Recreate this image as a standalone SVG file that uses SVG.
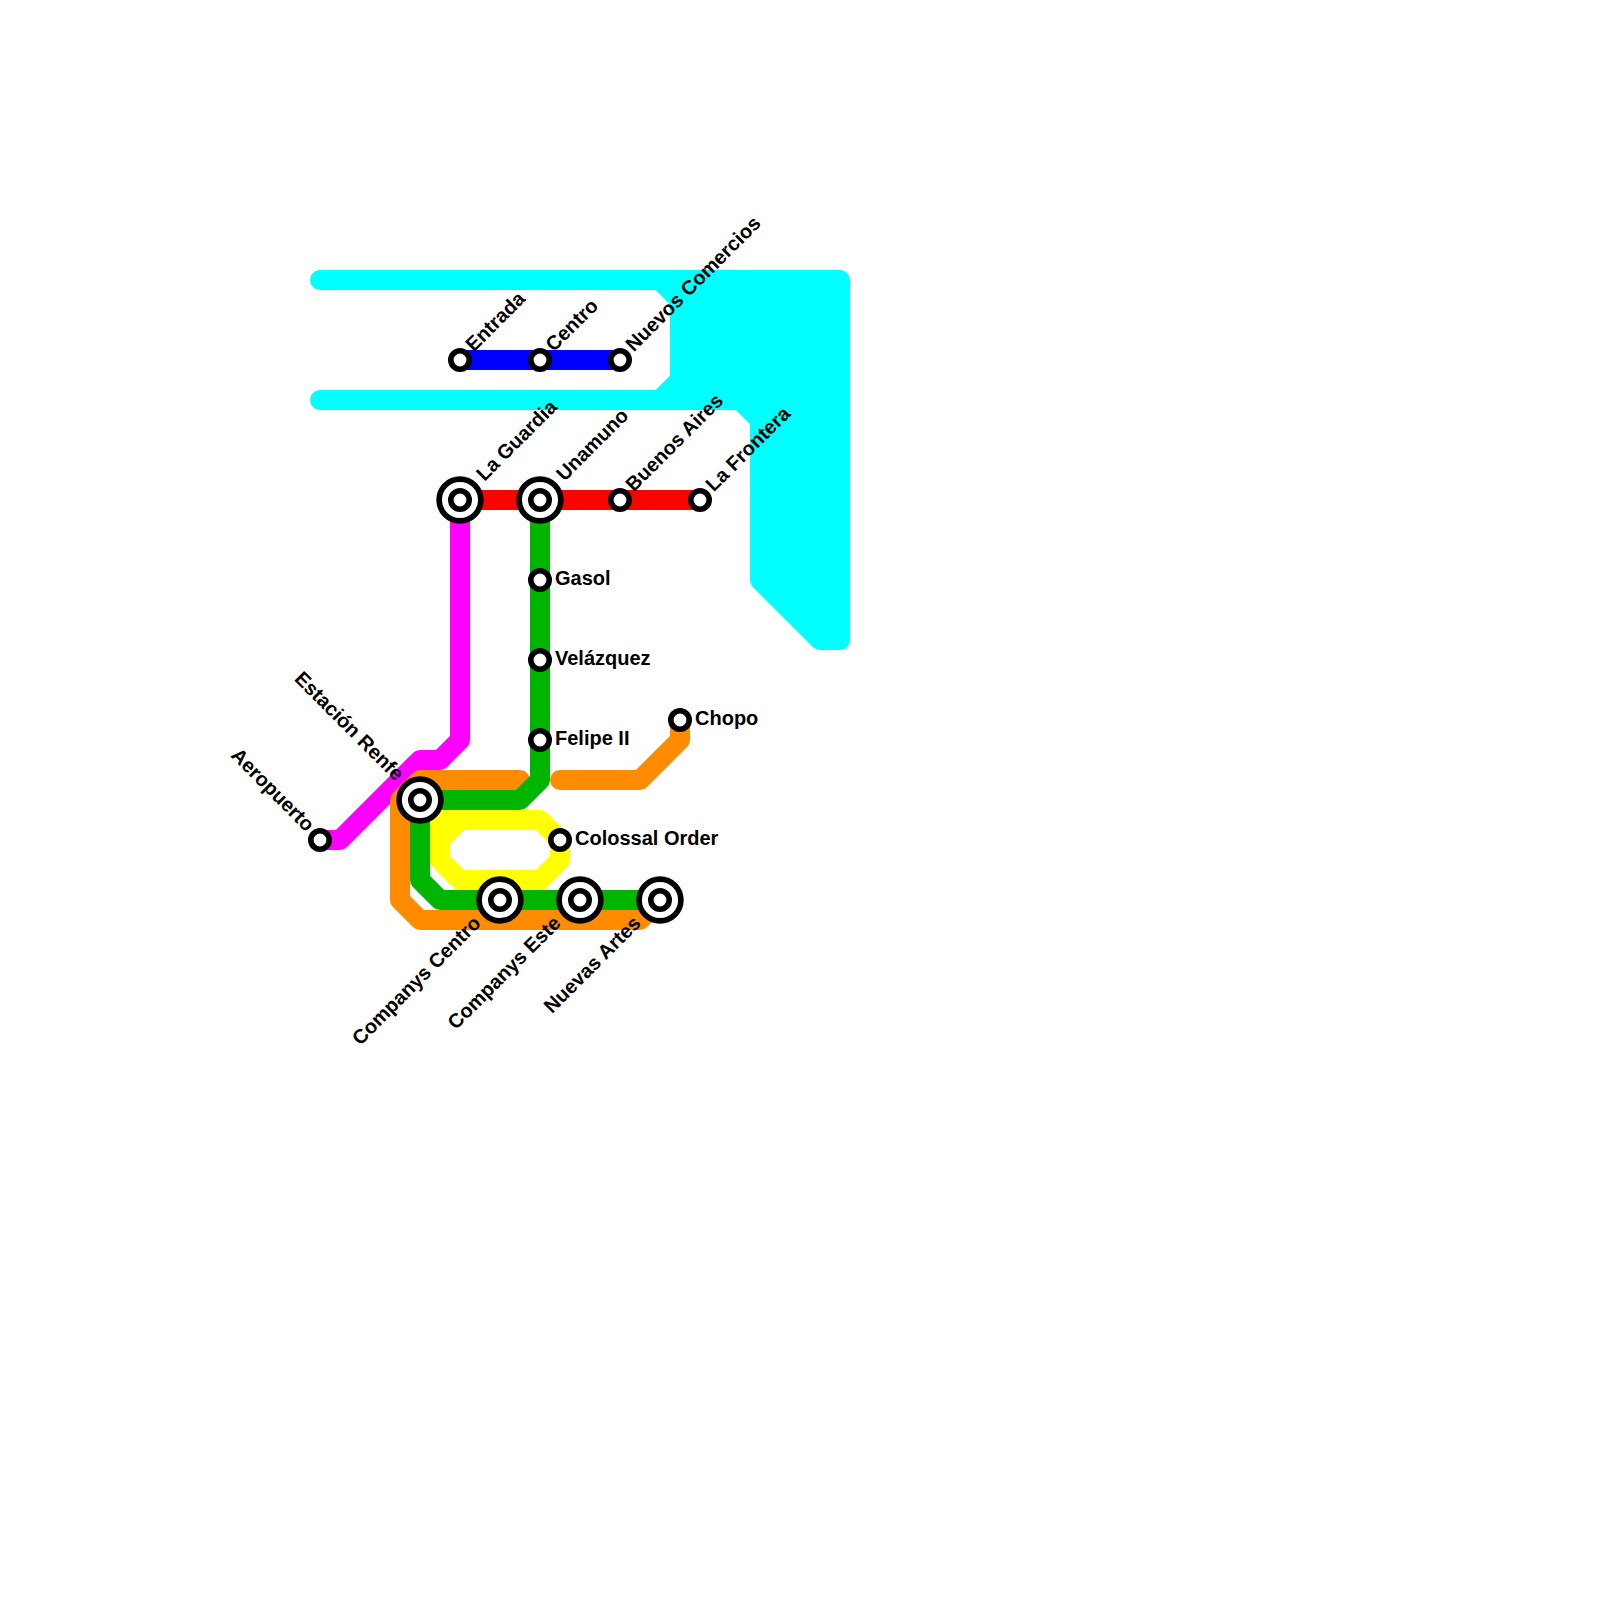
<svg xmlns="http://www.w3.org/2000/svg" width="1600" height="1600" viewBox="0 0 1600 1600">
<style>
.l{fill:none;stroke-width:20;stroke-linecap:round;stroke-linejoin:round}
.s{fill:#fff;stroke:#000;stroke-width:5.6}
text{font-family:"Liberation Sans",Arial,sans-serif;font-weight:700;font-size:20px;fill:#000}
.e{text-anchor:end}
</style>
<defs>
<g id="st"><circle class="s" r="9.2"/></g>
<g id="ic"><circle class="s" r="20.9"/><circle class="s" r="9.2"/></g>
</defs>
<rect width="1600" height="1600" fill="#fff"/>
<g id="connectors">
<path class="l" stroke="#0ff" d="M320 280H660L680 300V380L660 400H320"/>
<path class="l" stroke="#0ff" style="fill:#0ff" d="M660 280H840V640H820L760 580V420L740 400H660L680 380V300Z"/>
<path class="l" stroke="#00f" d="M460 360H620"/>
<path class="l" stroke="#f00" d="M460 500H700"/>
<path class="l" stroke="#f0f" d="M460 500V740L440 760H420L340 840H320"/>
<path class="l" stroke="#ff8c00" d="M520 780H420L400 800V900L420 920H640L660 900"/>
<path class="l" stroke="#ff8c00" d="M560 780H640L680 740V720"/>
<path class="l" stroke="#ff0" d="M460 820H540L560 840V860L540 880H460L440 860V840Z"/>
<path fill="#ff0" d="M430 810H470V830H464L450 844V850H430Z"/>
<path class="l" stroke="#00b500" d="M540 500V780L520 800H420V880L440 900H660"/>
</g>
<g id="n-entrada"><use href="#st" x="460" y="360"/><text transform="translate(460 360) rotate(-45)" x="15" y="4.5">Entrada</text></g>
<g id="n-centro"><use href="#st" x="540" y="360"/><text transform="translate(540 360) rotate(-45)" x="15" y="4.5">Centro</text></g>
<g id="n-nuevos-comercios"><use href="#st" x="620" y="360"/><text transform="translate(620 360) rotate(-45)" x="15" y="4.5">Nuevos Comercios</text></g>
<g id="n-la-guardia"><use href="#ic" x="460" y="500"/><text transform="translate(460 500) rotate(-45)" x="30" y="4.5">La Guardia</text></g>
<g id="n-unamuno"><use href="#ic" x="540" y="500"/><text transform="translate(540 500) rotate(-45)" x="30" y="4.5">Unamuno</text></g>
<g id="n-buenos-aires"><use href="#st" x="620" y="500"/><text transform="translate(620 500) rotate(-45)" x="15" y="4.5">Buenos Aires</text></g>
<g id="n-la-frontera"><use href="#st" x="700" y="500"/><text transform="translate(700 500) rotate(-45)" x="15" y="4.5">La Frontera</text></g>
<g id="n-gasol"><use href="#st" x="540" y="580"/><text x="555" y="585">Gasol</text></g>
<g id="n-velazquez"><use href="#st" x="540" y="660"/><text x="555" y="665">Velázquez</text></g>
<g id="n-felipe"><use href="#st" x="540" y="740"/><text x="555" y="745">Felipe II</text></g>
<g id="n-chopo"><use href="#st" x="680" y="720"/><text x="695" y="725">Chopo</text></g>
<g id="n-colossal"><use href="#st" x="560" y="840"/><text x="575" y="845">Colossal Order</text></g>
<g id="n-aeropuerto"><use href="#st" x="320" y="840"/><text class="e" transform="translate(320 840) rotate(45)" x="-15" y="4.5">Aeropuerto</text></g>
<g id="n-estacion"><use href="#ic" x="420" y="800"/><text class="e" transform="translate(420 800) rotate(45)" x="-30" y="4.5">Estación Renfe</text></g>
<g id="n-companys-centro"><use href="#ic" x="500" y="900"/><text class="e" transform="translate(500 900) rotate(-45)" x="-30" y="4.5">Companys Centro</text></g>
<g id="n-companys-este"><use href="#ic" x="580" y="900"/><text class="e" transform="translate(580 900) rotate(-45)" x="-30" y="4.5">Companys Este</text></g>
<g id="n-nuevas-artes"><use href="#ic" x="660" y="900"/><text class="e" transform="translate(660 900) rotate(-45)" x="-30" y="4.5">Nuevas Artes</text></g>
</svg>
